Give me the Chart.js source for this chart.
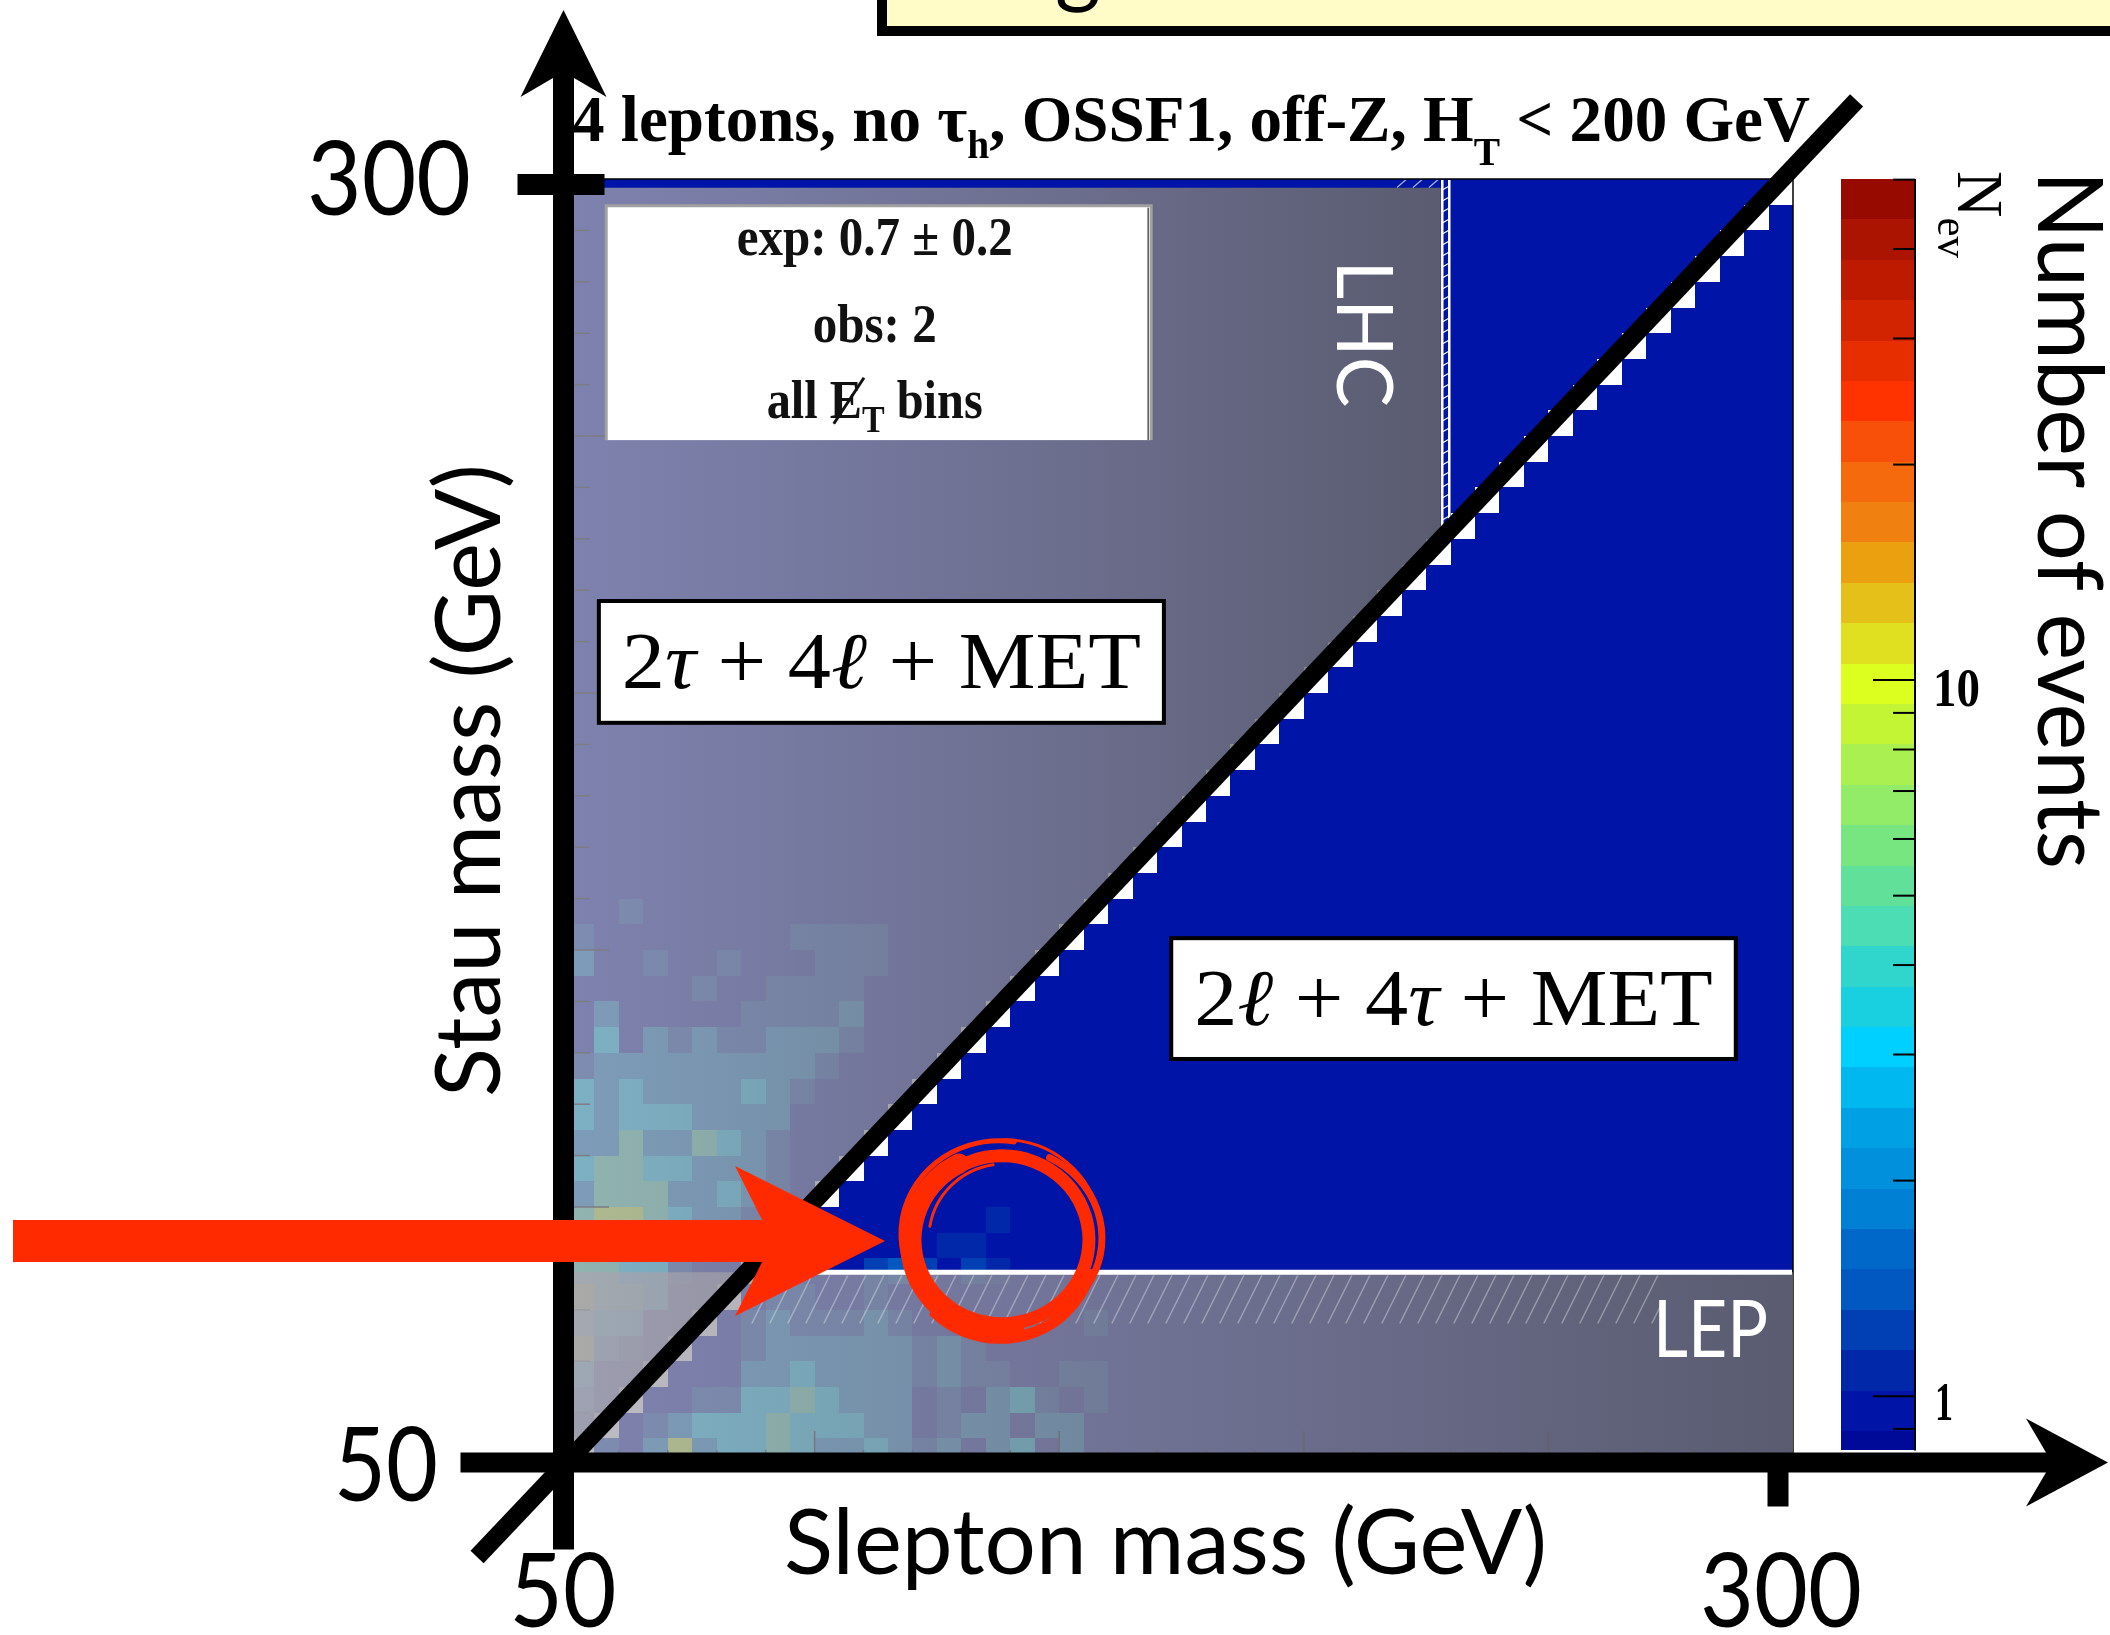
<!DOCTYPE html>
<html>
<head>
<meta charset="utf-8">
<title>Stau mass vs slepton mass</title>
<script src="https://cdn.jsdelivr.net/npm/chart.js@4.4.1/dist/chart.umd.min.js"></script>
<style>
  html, body { margin: 0; padding: 0; background: #fff; overflow: hidden; }
  canvas { display: block; }
</style>
</head>
<body>
<canvas id="chart" width="2110" height="1635"></canvas>
<script>
// ---------------- data ----------------
// Axis ranges (GeV) and histogram binning
const sleptonRange = [50, 300];
const stauRange = [50, 300];
const binWidth = 5;

// Tick labels of the hand-drawn axes
const xTickValues = [50, 300];
const xTickLabels = ['50', '300'];
const yTickValues = [50, 300];
const yTickLabels = ['50', '300'];

// Logarithmic colour scale for the number of events
const zAxisRange = [0.804, 50.1];   // range mapped onto the plot height
const zBarRange = [0.84, 50.1];     // part of it shown as the colour bar
const zMajorTicks = [1, 10];
const zMajorLabels = ['1', '10'];
const zMinorTicks = [0.9, 2, 3, 4, 5, 6, 7, 8, 9, 20, 30, 40, 50];
const contourTop = 50.1;
const contourStep = 0.0564;         // decades per colour band
const paletteColors = [             // highest band first
  '#960a00', '#aa1400', '#be1a00', '#d22400', '#e62e00', '#ff3300', '#f85008', '#f56a0c',
  '#f08010', '#eba010', '#e5c018', '#e0e020', '#ddff20', '#c4f535', '#aaf050', '#92ec68',
  '#78e680', '#60e098', '#4cddb4', '#30d5cc', '#18d0e0', '#00d0ff', '#00b8f0', '#00a0e4',
  '#0090dc', '#0080d4', '#0068c8', '#0058c0', '#0040b4', '#0028a8', '#0015a8', '#000a98'
];

// Events per 5 GeV bin; 'w' = empty bin
const eventLevels = { '.': 1.0, d: 1.1, b: 1.25, e: 1.45, t: 1.8, c: 3.0, g: 4.5, y: 8.5 };
// one string per stau-mass row, 295-300 GeV first; columns are slepton mass 50..300 GeV
const eventGrid = [
  ".......... .......... .......... .......... .........w",
  ".......... .......... .......... .......... ........w.",
  ".......... .......... .......... .......... .......w..",
  ".......... .......... .......... .......... ......w...",
  ".......... .......... .......... .......... .....w....",
  ".......... .......... .......... .......... ....w.....",
  ".......... .......... .......... .......... ...w......",
  ".......... .......... .......... .......... ..w.......",
  ".......... .......... .......... .......... .w........",
  ".......... .......... .......... .......... w.........",
  ".......... .......... .......... .........w ..........",
  ".......... .......... .......... ........w. ..........",
  ".......... .......... .......... .......w.. ..........",
  ".......... .......... .......... ......w... ..........",
  ".......... .......... .......... .....w.... ..........",
  ".......... .......... .......... ....w..... ..........",
  ".......... .......... .......... ...w...... ..........",
  ".......... .......... .......... ..w....... ..........",
  ".......... .......... .......... .w........ ..........",
  ".......... .......... .......... w......... ..........",
  ".......... .......... .........w .......... ..........",
  ".......... .......... ........w. .......... ..........",
  ".......... .......... .......w.. .......... ..........",
  ".......... .......... ......w... .......... ..........",
  ".......... .......... .....w.... .......... ..........",
  ".......... .......... ....w..... .......... ..........",
  ".......... .......... ...w...... .......... ..........",
  ".......... .......... ..w....... .......... ..........",
  "..b....... .......... .w........ .......... ..........",
  "b........b bbb....... w......... .......... ..........",
  "t..b..b... bbb......w .......... .......... ..........",
  ".....b..bb bb......w. .......... .......... ..........",
  ".t.....bbb bt.....w.. .......... .......... ..........",
  ".c.tbtbbtt tb....w... .......... .......... ..........",
  "bttttttttt b....w.... .......... .......... ..........",
  "ctcttttctb ....w..... .......... .......... ..........",
  "ctccctttt. ...w...... .......... .......... ..........",
  "ttgttgctb. ..w....... .......... .......... ..........",
  "cggcctttb. .w........ .......... .......... ..........",
  "tgggttctb. w......... .......... .......... ..........",
  "gyygcttb.w .......d.. .......... .......... ..........",
  "ggcctttbw. .....dd... .......... .......... ..........",
  "ggccb..w.. ..beb.bd.. .......... .......... ..........",
  "yggc..w.bb ..b....... .......... .......... ..........",
  "gcc..w.btb bbtb...... .b........ .......... ..........",
  "ytb.w..btt ttttbtb... .......... .......... ..........",
  "c..w...ttc ttttbtbb.. bb........ .......... ..........",
  "t.w..bbccg cttt.b.tcb .b........ .......... ..........",
  "bw.btcccgc cctt.btt.t t......... .......... ..........",
  "wb.tytccgc ttctbt.tc. t......... .......... .........."
];

// Excluded regions (GeV)
const lepStauLimit = 87.3;
const lhcSleptonLimit = 228;
const lhcTopEdge = 298.3;

// Selection and yields
const titleParts = ['4 leptons, no \u03c4', 'h', ', OSSF1, off-Z, H', 'T', ' < 200 GeV'];
const expectedYield = '0.7 \u00b1 0.2';
const observedYield = '2';

// In-plot annotations, placed in (slepton, stau) mass coordinates
const infoBox = { x0: 57.4, x1: 168.8, y0: 249.2, y1: 294.8 };
const regionBoxes = [
  { x0: 55.9, x1: 171.4, y0: 194.2, y1: 217.9, parts: [['2', 0], ['\u03c4', 1], [' + ', 0], ['4', 0], ['\u2113', 1], [' + ', 0], ['MET', 0]] },
  { x0: 172.9, x1: 288.3, y0: 128.8, y1: 152.3, parts: [['2', 0], ['\u2113', 1], [' + ', 0], ['4', 0], ['\u03c4', 1], [' + ', 0], ['MET', 0]] }
];
const lhcLabelAt = [206.8, 284.2];
const lepLabelAt = [271.4, 70.8];
const diagonalEnds = [[31, 31.9], [313, 315.3]];
const arrowTip = [114.4, 93.4];
const ringCentre = [138.3, 94.0];

// ---------------- drawing helpers ----------------
function colorFor(v) {
  let k = Math.floor((Math.log10(contourTop) - Math.log10(v)) / contourStep);
  k = Math.max(0, Math.min(paletteColors.length - 1, k));
  return paletteColors[k];
}

function line(ctx, x0, y0, x1, y1) {
  ctx.beginPath(); ctx.moveTo(x0, y0); ctx.lineTo(x1, y1); ctx.stroke();
}

function poly(ctx, pts) {
  ctx.beginPath();
  pts.forEach((p, i) => i ? ctx.lineTo(p[0], p[1]) : ctx.moveTo(p[0], p[1]));
  ctx.closePath(); ctx.fill();
}

// Draws a run of text pieces squeezed/stretched to a given width
function textRun(ctx, pieces, x, y, width, align) {
  let total = 0;
  for (const p of pieces) {
    ctx.font = p.font;
    p.w = ctx.measureText(p.t).width;
    p.x = total;
    total += p.w;
  }
  const k = width ? width / total : 1;
  let x0 = x;
  if (align === 'center') x0 = x - total * k / 2;
  else if (align === 'right') x0 = x - total * k;
  ctx.save();
  ctx.translate(x0, y);
  ctx.scale(k, 1);
  ctx.textAlign = 'left';
  ctx.textBaseline = 'alphabetic';
  for (const p of pieces) { ctx.font = p.font; ctx.fillText(p.t, p.x, p.dy || 0); }
  ctx.restore();
  return { x0, k, pieces };
}

const SERIF = '"Liberation Serif", "Times New Roman", serif';
const SANS = 'Lato, "Open Sans", sans-serif';

// ---------------- figure plugin ----------------
const figurePlugin = {
  id: 'stauFigure',
  beforeDraw(chart) {
    const ctx = chart.ctx;
    ctx.save();
    ctx.fillStyle = '#fff';
    ctx.fillRect(0, 0, chart.width, chart.height);
    ctx.restore();
  },
  afterDraw(chart) {
    const ctx = chart.ctx;
    const area = chart.chartArea;
    const X = v => chart.scales.x.getPixelForValue(v);
    const Y = v => chart.scales.y.getPixelForValue(v);
    const Z = v => chart.scales.z.getPixelForValue(v);
    ctx.save();

    // --- histogram cells ---
    eventGrid.forEach((rowStr, i) => {
      const cells = rowStr.replace(/ /g, '');
      const stauLo = stauRange[1] - (i + 1) * binWidth;
      for (let c = 0; c < cells.length; c++) {
        const code = cells[c];
        if (code === 'w') continue;
        const sl = sleptonRange[0] + c * binWidth;
        const x0 = Math.round(X(sl)), x1 = Math.round(X(sl + binWidth));
        const y0 = Math.round(Y(stauLo + binWidth)), y1 = Math.round(Y(stauLo));
        ctx.fillStyle = colorFor(eventLevels[code]);
        ctx.fillRect(x0, y0, x1 - x0, y1 - y0);
      }
    });

    // --- frame and its tick marks ---
    ctx.strokeStyle = '#000';
    ctx.lineWidth = 1.5;
    for (let v = sleptonRange[0] + 10; v < sleptonRange[1]; v += 10) {
      const major = v % 50 === 0;
      const yv = Y(v);
      line(ctx, area.left, yv, area.left + (major ? 39 : 20), yv);
      const xv = X(v);
      line(ctx, xv, area.bottom, xv, area.bottom - (major ? 33 : 14));
    }
    line(ctx, area.left, area.top, area.right, area.top);
    line(ctx, area.right, area.top, area.right, area.bottom);

    // --- excluded regions (translucent grey) ---
    const grey = (xl, xr) => {
      const g = ctx.createLinearGradient(xl, 0, xr, 0);
      g.addColorStop(0, 'rgba(168,166,176,0.75)');
      g.addColorStop(1, 'rgba(102,101,104,0.88)');
      return g;
    };
    ctx.fillStyle = grey(X(sleptonRange[0]), X(lhcSleptonLimit));
    poly(ctx, [
      [X(sleptonRange[0]), Y(lhcTopEdge)], [X(lhcSleptonLimit), Y(lhcTopEdge)],
      [X(lhcSleptonLimit), Y(lhcSleptonLimit)], [X(sleptonRange[0]), Y(stauRange[0])]
    ]);
    ctx.fillStyle = grey(X(sleptonRange[0]), X(sleptonRange[1]));
    ctx.fillRect(X(sleptonRange[0]), Y(lepStauLimit), X(sleptonRange[1]) - X(sleptonRange[0]), Y(stauRange[0]) - Y(lepStauLimit));

    // LEP contour with hatching
    const ly = Y(lepStauLimit);
    const hy0 = ly + 3, hy1 = Y(lepStauLimit - 10);
    const hx0 = X(86), hx1 = X(lepLabelAt[0]) + 10;
    ctx.save();
    ctx.beginPath(); ctx.rect(hx0, hy0, hx1 - hx0, hy1 - hy0); ctx.clip();
    ctx.strokeStyle = 'rgba(255,255,255,0.33)';
    ctx.lineWidth = 1.5;
    const hh = hy1 - hy0;
    for (let x = hx0 - hh; x < hx1 + hh; x += 18) line(ctx, x, hy1, x + hh * 0.5, hy0);
    ctx.restore();
    ctx.strokeStyle = '#fff';
    ctx.lineWidth = 5;
    line(ctx, X(86), ly, X(sleptonRange[1]) - 1, ly);

    // LHC contour: double line with hatching
    const lx = X(lhcSleptonLimit) + 1.5;
    const lyTop = Y(stauRange[1]) + 1, lyBot = Y(lhcSleptonLimit);
    ctx.strokeStyle = '#fff';
    ctx.lineWidth = 2.5;
    line(ctx, lx, lyTop, lx, lyBot);
    line(ctx, lx + 7, lyTop, lx + 7, lyBot);
    ctx.lineWidth = 1.2;
    for (let yv = lyTop + 6; yv < lyBot; yv += 11) line(ctx, lx, yv + 4, lx + 7, yv);
    ctx.save();
    ctx.beginPath(); ctx.rect(X(219), Y(stauRange[1]) + 1, X(lhcSleptonLimit) - X(219), Y(lhcTopEdge) - Y(stauRange[1]) - 1); ctx.clip();
    ctx.strokeStyle = 'rgba(255,255,255,0.7)';
    for (let x = X(219); x < X(lhcSleptonLimit) + 10; x += 16) line(ctx, x, Y(lhcTopEdge), x + 10, Y(stauRange[1]));
    ctx.restore();

    // region names
    ctx.fillStyle = '#fff';
    ctx.save();
    ctx.translate(X(lhcLabelAt[0]), Y(lhcLabelAt[1]));
    ctx.rotate(Math.PI / 2);
    textRun(ctx, [{ t: 'LHC', font: '78px ' + SANS }], 0, 0, 147, 'left');
    ctx.restore();
    textRun(ctx, [{ t: 'LEP', font: '79px ' + SANS }], X(lepLabelAt[0]), Y(lepLabelAt[1]), 115, 'left');

    // --- yields box ---
    {
      const bx0 = X(infoBox.x0), bx1 = X(infoBox.x1), by0 = Y(infoBox.y1), by1 = Y(infoBox.y0);
      ctx.fillStyle = '#fff';
      ctx.fillRect(bx0, by0, bx1 - bx0, by1 - by0);
      ctx.strokeStyle = '#a0a0a0';
      ctx.lineWidth = 3;
      ctx.beginPath();
      ctx.moveTo(bx0, by1); ctx.lineTo(bx0, by0); ctx.lineTo(bx1, by0); ctx.lineTo(bx1, by1);
      ctx.stroke();
      ctx.strokeStyle = '#555';
      ctx.lineWidth = 1.5;
      line(ctx, bx1 - 3, by0 + 2, bx1 - 3, by1);
      const cx = (bx0 + bx1) / 2 - 4;
      ctx.fillStyle = '#111';
      const B = 'bold 54px ' + SERIF;
      textRun(ctx, [{ t: 'exp: ' + expectedYield, font: B }], cx, by0 + 49, 276, 'center');
      textRun(ctx, [{ t: 'obs: ' + observedYield, font: B }], cx, by0 + 136, 124, 'center');
      const run = textRun(ctx, [
        { t: 'all ', font: B }, { t: 'E', font: B }, { t: 'T', font: 'bold 38px ' + SERIF, dy: 14 }, { t: ' bins', font: B }
      ], cx, by0 + 212, 216, 'center');
      const e = run.pieces[1];
      const ex0 = run.x0 + e.x * run.k, ex1 = run.x0 + (e.x + e.w) * run.k;
      ctx.strokeStyle = '#111';
      ctx.lineWidth = 3;
      line(ctx, ex0 + 4, by0 + 218, ex1 + 2, by0 + 172);
    }

    // --- final-state boxes ---
    for (const rb of regionBoxes) {
      const bx0 = X(rb.x0), bx1 = X(rb.x1), by0 = Y(rb.y1), by1 = Y(rb.y0);
      ctx.fillStyle = '#fff';
      ctx.fillRect(bx0, by0, bx1 - bx0, by1 - by0);
      ctx.strokeStyle = '#000';
      ctx.lineWidth = 4;
      ctx.strokeRect(bx0, by0, bx1 - bx0, by1 - by0);
      ctx.fillStyle = '#000';
      const pieces = rb.parts.map(p => ({ t: p[0], font: (p[1] ? 'italic ' : '') + '80px ' + SERIF }));
      textRun(ctx, pieces, bx0 + 23, by0 + 87, bx1 - bx0 - 46, 'left');
    }

    // --- title ---
    ctx.fillStyle = '#000';
    {
      const T = 'bold 66px ' + SERIF, S = 'bold 40px ' + SERIF;
      textRun(ctx, [
        { t: titleParts[0], font: T }, { t: titleParts[1], font: S, dy: 17 },
        { t: titleParts[2], font: T }, { t: titleParts[3], font: S, dy: 24 },
        { t: titleParts[4], font: T }
      ], area.left + 2, area.top - 38, 1238, 'left');
    }

    // --- colour bar ---
    const cb0 = area.right + 48, cb1 = area.right + 122;
    for (let k = 0; k < paletteColors.length; k++) {
      const hi = Math.min(contourTop / Math.pow(10, k * contourStep), zBarRange[1]);
      const lo = Math.max(contourTop / Math.pow(10, (k + 1) * contourStep), zBarRange[0]);
      if (hi <= lo) continue;
      const yt = Math.round(Z(hi)), yb = Math.round(Z(lo));
      ctx.fillStyle = paletteColors[k];
      ctx.fillRect(cb0, yt, cb1 - cb0, yb - yt);
    }
    ctx.strokeStyle = '#000';
    ctx.lineWidth = 2;
    line(ctx, cb1, Z(zBarRange[1]), cb1, Z(zBarRange[0]));
    zMajorTicks.forEach(v => line(ctx, cb1, Z(v), cb1 - 42, Z(v)));
    zMinorTicks.forEach(v => line(ctx, cb1, Z(v), cb1 - 22, Z(v)));
    ctx.fillStyle = '#000';
    textRun(ctx, [{ t: zMajorLabels[0], font: 'bold 54px ' + SERIF }], cb1 + 20, Z(zMajorTicks[0]) + 24, 18, 'left');
    textRun(ctx, [{ t: zMajorLabels[1], font: 'bold 54px ' + SERIF }], cb1 + 18, Z(zMajorTicks[1]) + 26, 47, 'left');
    ctx.save();
    ctx.translate(cb1 + 43, area.top - 8);
    ctx.rotate(Math.PI / 2);
    textRun(ctx, [{ t: 'N', font: '66px ' + SERIF }, { t: 'ev', font: '44px ' + SERIF, dy: 20 }], 0, 0, 87, 'left');
    ctx.restore();
    ctx.save();
    ctx.translate(cb1 + 123, area.top - 8);
    ctx.rotate(Math.PI / 2);
    textRun(ctx, [{ t: 'Number of events', font: '92px ' + SANS }], 0, 0, 698, 'left');
    ctx.restore();

    // --- bold axes with arrow heads ---
    ctx.fillStyle = '#000';
    const barW = 21;
    const ax = area.left - 6.5;          // vertical axis centre
    const ay = area.bottom - 1.5;        // horizontal axis centre
    ctx.fillRect(ax - barW / 2, 76, barW, ay + 87 - 76);
    poly(ctx, [[ax, 10], [ax + 43, 97], [ax + barW / 2, 78], [ax - barW / 2, 78], [ax - 43, 97]]);
    ctx.fillRect(ax - 103, ay - 10, 2046 - (ax - 103), 20);
    poly(ctx, [[2108, ay], [2026, ay - 44], [2046, ay - 10], [2046, ay + 10], [2026, ay + 44]]);
    const y300 = Y(yTickValues[1]) + 5.5;
    ctx.fillRect(ax - 46, y300 - 10.5, 87, 21);
    const x300 = X(xTickValues[1]) - 15;
    ctx.fillRect(x300 - 10.5, ay, 21, 44);

    // tick labels
    const TL = '102px ' + SANS;
    textRun(ctx, [{ t: yTickLabels[1], font: TL }], 471, Y(yTickValues[1]) + 36, 164, 'right');
    textRun(ctx, [{ t: yTickLabels[0], font: TL }], 438, Y(yTickValues[0]) + 37, 104, 'right');
    textRun(ctx, [{ t: xTickLabels[0], font: TL }], X(xTickValues[0]) - 7, 1627, 107, 'center');
    textRun(ctx, [{ t: xTickLabels[1], font: TL }], X(xTickValues[1]) - 12, 1627, 162, 'center');

    // axis titles
    textRun(ctx, [{ t: 'Slepton mass (GeV)', font: '92px ' + SANS }], 784, 1574, 763, 'left');
    ctx.save();
    ctx.translate(500, 1097);
    ctx.rotate(-Math.PI / 2);
    textRun(ctx, [{ t: 'Stau mass (GeV)', font: '92px ' + SANS }], 0, 0, 633, 'left');
    ctx.restore();

    // --- mass diagonal ---
    ctx.strokeStyle = '#000';
    ctx.lineWidth = 18;
    ctx.lineCap = 'butt';
    line(ctx, X(diagonalEnds[0][0]), Y(diagonalEnds[0][1]), X(diagonalEnds[1][0]), Y(diagonalEnds[1][1]));

    // --- red pointer and hand-drawn ring ---
    const red = '#ff2a00';
    ctx.fillStyle = red;
    const tx = X(arrowTip[0]), ty = Y(arrowTip[1]);
    poly(ctx, [[13, ty - 21], [tx - 123, ty - 21], [tx - 150, ty - 75], [tx, ty],
               [tx - 150, ty + 75], [tx - 123, ty + 21], [13, ty + 21]]);
    const rcx = X(ringCentre[0]), rcy = Y(ringCentre[1]);
    ctx.strokeStyle = red;
    ctx.lineCap = 'round';
    const P = Math.PI;
    // [dx, dy, rx, ry, width, start, end]
    const strokes = [
      [0, 2, 87, 84, 13, 0, 2 * P],
      [-2, 4, 90, 88, 20, 0.45 * P, 1.35 * P],
      [-3, -4, 98, 93, 5, 0.9 * P, 1.55 * P],
      [1, -2, 84, 80, 4, 1.2 * P, 1.8 * P],
      [2, -6, 96, 92, 3, 1.5 * P, 1.95 * P],
      [4, 0, 96, 90, 7, -0.35 * P, 0.25 * P],
      [0, 8, 92, 92, 11, 0.1 * P, 0.85 * P],
      [-2, 10, 97, 94, 4, 0.25 * P, 0.75 * P],
      [3, 0, 76, 74, 3, 1.05 * P, 1.45 * P]
    ];
    for (const s of strokes) {
      ctx.lineWidth = s[4];
      ctx.beginPath();
      ctx.ellipse(rcx + s[0], rcy + s[1], s[2], s[3], 0, s[5], s[6]);
      ctx.stroke();
    }
    ctx.lineCap = 'butt';

    // --- slide banner at the top edge ---
    ctx.fillStyle = '#000';
    ctx.fillRect(877, 0, chart.width - 877, 36);
    ctx.fillStyle = '#fffcc8';
    ctx.fillRect(887, 0, chart.width - 887, 26);
    ctx.fillStyle = '#000';
    ctx.font = '88px ' + SANS;
    ctx.textBaseline = 'alphabetic';
    ctx.fillText('g', 1055, -4);

    ctx.restore();
  }
};

new Chart(document.getElementById('chart'), {
  type: 'scatter',
  data: { datasets: [] },
  options: {
    responsive: false,
    animation: false,
    devicePixelRatio: 1,
    layout: { padding: { left: 570, top: 179, right: 317, bottom: 171 } },
    plugins: { legend: { display: false }, tooltip: { enabled: false }, title: { display: false } },
    scales: {
      x: { type: 'linear', min: sleptonRange[0], max: sleptonRange[1], display: false },
      y: { type: 'linear', min: stauRange[0], max: stauRange[1], display: false },
      z: { type: 'logarithmic', axis: 'y', position: 'right', min: zAxisRange[0], max: zAxisRange[1], display: false }
    }
  },
  plugins: [figurePlugin]
});
</script>
</body>
</html>
